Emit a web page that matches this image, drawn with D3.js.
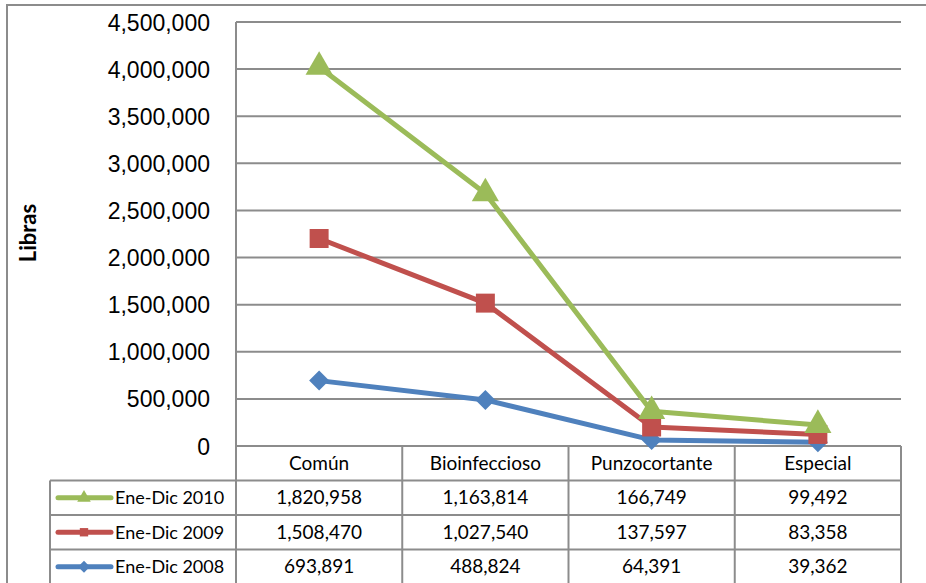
<!DOCTYPE html>
<meta charset="utf-8">
<style>
  body { margin: 0; background: #fff; }
  svg { font-family: Lato, "Open Sans", sans-serif; }
  .grid line { stroke: #8c8c8c; stroke-width: 2; }
  .tbl line { stroke: #8c8c8c; stroke-width: 2; }
  .tick text { font-size: 23px; fill: #000; }
  .cell { font-size: 19px; fill: #000; }
  .leg { font-size: 18px; fill: #000; }
</style>
<body>
</body>
<script src="https://cdn.jsdelivr.net/npm/d3@7"></script>
<script>
  const categories = ['Común', 'Bioinfeccioso', 'Punzocortante', 'Especial'];
  const seriesNames = ['Ene-Dic 2010', 'Ene-Dic 2009', 'Ene-Dic 2008'];
  const v2010 = [1820958, 1163814, 166749, 99492];
  const v2009 = [1508470, 1027540, 137597, 83358];
  const v2008 = [693891, 488824, 64391, 39362];
  const yTicks = [0, 500000, 1000000, 1500000, 2000000, 2500000, 3000000, 3500000, 4000000, 4500000];

  const colors = ['#9bbb59', '#c0504d', '#4f81bd'];
  // triangle, square, diamond (square turned 45deg)
  const shapes = [d3.symbolTriangle, d3.symbolSquare, d3.symbolSquare];
  const turn = [0, 0, 45];

  const w = 926, h = 583;
  const l = 236, r = 901, t = 22, b = 446;
  const rowH = 34.5, legL = 50;

  const svg = d3.select('body').append('svg')
    .attr('width', w).attr('height', h);

  // outer frame
  svg.append('path')
    .attr('d', `M7,${h} V5 H${w}`)
    .attr('fill', 'none').attr('stroke', '#8c8c8c').attr('stroke-width', 2);

  const x = d3.scaleBand().domain(categories).range([l, r]);
  const y = d3.scaleLinear().domain([0, 4500000]).range([b, t]);

  // stacked lines (2008 at the bottom)
  const rows = [v2010, v2009, v2008];
  const stacked = [];
  let acc = categories.map(() => 0);
  [v2008, v2009, v2010].forEach(vals => {
    acc = acc.map((a, i) => a + vals[i]);
    stacked.push(acc.slice());
  });
  const stackedTop = [stacked[2], stacked[1], stacked[0]];

  svg.append('g').attr('class', 'grid')
    .selectAll('line').data(yTicks.slice(1))
    .join('line')
      .attr('x1', l).attr('x2', r)
      .attr('y1', d => y(d)).attr('y2', d => y(d));

  const yAxis = svg.append('g')
    .attr('transform', `translate(${l},0)`)
    .call(d3.axisLeft(y).tickValues(yTicks).tickFormat(d3.format(',')).tickSize(0).tickPadding(26));
  yAxis.select('.domain').remove();
  yAxis.selectAll('text').attr('dy', '0.35em');

  svg.append('text')
    .attr('transform', 'translate(28,233) rotate(-90)')
    .attr('text-anchor', 'middle').attr('dy', '0.35em')
    .style('font-size', '22px').style('font-weight', 'bold')
    .text('Libras');

  // data table
  const tbl = svg.append('g').attr('class', 'tbl');
  const tableBottom = b + rowH * 4 + 4;
  const colEdges = categories.map(c => x(c)).concat([r]);
  tbl.selectAll('line.v').data(colEdges)
    .join('line').attr('class', 'v')
      .attr('x1', d => d).attr('x2', d => d)
      .attr('y1', (d, i) => i === 0 ? t : b).attr('y2', tableBottom);
  tbl.append('line').attr('x1', legL).attr('x2', legL).attr('y1', b + rowH).attr('y2', tableBottom);
  tbl.append('line').attr('x1', l).attr('x2', r).attr('y1', b).attr('y2', b);
  tbl.selectAll('line.h').data([1, 2, 3])
    .join('line').attr('class', 'h')
      .attr('x1', legL).attr('x2', r)
      .attr('y1', d => b + d * rowH).attr('y2', d => b + d * rowH);

  svg.append('g').selectAll('text').data(categories)
    .join('text').attr('class', 'cell')
      .attr('x', d => x(d) + x.bandwidth() / 2)
      .attr('y', b + rowH / 2)
      .attr('dy', '0.35em').attr('text-anchor', 'middle')
      .text(d => d);

  rows.forEach((vals, ri) => {
    const cy = b + rowH * (ri + 1) + rowH / 2;
    const g = svg.append('g');
    g.selectAll('text').data(vals)
      .join('text').attr('class', 'cell')
        .attr('x', (d, i) => x(categories[i]) + x.bandwidth() / 2)
        .attr('y', cy).attr('dy', '0.35em').attr('text-anchor', 'middle')
        .text(d => d3.format(',')(d));
    g.append('line')
      .attr('x1', legL + 8).attr('x2', legL + 61).attr('y1', cy).attr('y2', cy)
      .attr('stroke', colors[ri]).attr('stroke-width', 5).attr('stroke-linecap', 'round');
    g.append('path')
      .attr('d', d3.symbol().type(shapes[ri]).size(ri === 0 ? 80 : 70)())
      .attr('transform', `translate(${legL + 34},${cy}) rotate(${turn[ri]})`)
      .attr('fill', colors[ri]);
    g.append('text').attr('class', 'leg')
      .attr('x', legL + 65).attr('y', cy).attr('dy', '0.35em')
      .text(seriesNames[ri]);
  });

  const line = d3.line()
    .x((d, i) => x(categories[i]) + x.bandwidth() / 2)
    .y(d => y(d));

  [2, 1, 0].forEach(si => {
    const data = stackedTop[si];
    svg.append('path')
      .attr('d', line(data))
      .attr('fill', 'none')
      .attr('stroke', colors[si]).attr('stroke-width', 5)
      .attr('stroke-linejoin', 'round');
    svg.append('g').selectAll('path').data(data)
      .join('path')
        .attr('d', d3.symbol().type(shapes[si]).size(si === 0 ? 320 : (si === 1 ? 360 : 200))())
        .attr('transform', (d, i) => `translate(${x(categories[i]) + x.bandwidth() / 2},${y(d)}) rotate(${turn[si]})`)
        .attr('fill', colors[si]);
  });
</script>
